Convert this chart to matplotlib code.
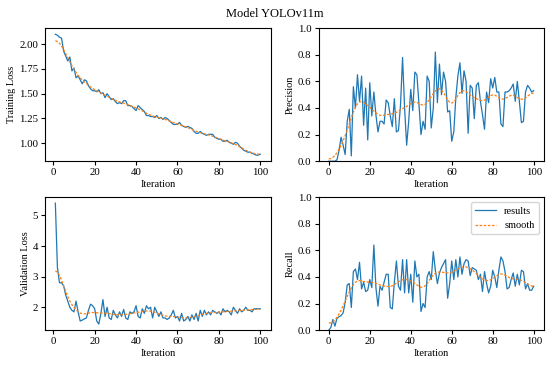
import numpy as np
import matplotlib
matplotlib.use('Agg')
import matplotlib.pyplot as plt

plt.rcParams['font.family'] = ['Liberation Serif', 'DejaVu Serif']

# iteraciones
it_loss = np.arange(1, 101)
it_metric = np.arange(0, 101)

train_loss = [2.10, 2.09, 2.07, 2.06, 1.93, 1.88, 1.83, 1.87, 1.73, 1.76,
              1.66, 1.68, 1.64, 1.60, 1.64, 1.63, 1.58, 1.55, 1.53, 1.53,
              1.52, 1.54, 1.50, 1.51, 1.46, 1.50, 1.47, 1.44, 1.45, 1.42,
              1.40, 1.41, 1.40, 1.43, 1.43, 1.38, 1.38, 1.37, 1.35, 1.33,
              1.38, 1.36, 1.34, 1.32, 1.28, 1.28, 1.27, 1.27, 1.26, 1.28,
              1.25, 1.26, 1.24, 1.26, 1.25, 1.23, 1.21, 1.19, 1.19, 1.19,
              1.21, 1.18, 1.17, 1.16, 1.17, 1.16, 1.15, 1.12, 1.10, 1.10,
              1.12, 1.10, 1.09, 1.08, 1.09, 1.09, 1.09, 1.06, 1.05, 1.04,
              1.04, 1.02, 1.02, 1.03, 1.01, 1.00, 0.99, 1.01, 1.00, 0.97,
              0.95, 0.93, 0.92, 0.91, 0.91, 0.90, 0.89, 0.88, 0.88, 0.89]

val_loss = [5.40, 3.30, 2.80, 2.80, 2.70, 2.40, 2.20, 2.00, 1.90, 1.85,
            2.20, 1.85, 1.55, 1.58, 1.62, 1.65, 1.90, 2.10, 2.05, 1.95,
            1.55, 1.45, 1.80, 2.25, 1.70, 2.00, 1.65, 1.60, 1.90, 1.75,
            1.65, 1.85, 1.70, 1.93, 1.65, 1.60, 1.85, 1.80, 1.85, 2.05,
            1.70, 1.65, 1.95, 1.80, 2.05, 1.95, 2.00, 1.65, 2.00, 1.85,
            1.70, 1.85, 1.65, 1.65, 1.60, 1.65, 1.75, 1.90, 1.65, 1.70,
            1.55, 1.80, 1.55, 1.60, 1.70, 1.55, 1.75, 1.60, 1.80, 1.55,
            1.90, 1.70, 1.90, 1.75, 1.85, 1.75, 1.90, 1.85, 1.80, 1.85,
            1.75, 1.95, 1.85, 1.90, 1.85, 1.75, 2.00, 1.90, 1.80, 1.95,
            1.85, 1.90, 2.00, 1.90, 1.90, 1.85, 1.95, 1.95, 1.95, 1.95]

precision = [0.00, 0.00, 0.00, 0.00, 0.01, 0.08, 0.18, 0.12, 0.05, 0.30,
             0.39, 0.04, 0.56, 0.40, 0.65, 0.45, 0.64, 0.27, 0.55, 0.16,
             0.59, 0.34, 0.52, 0.35, 0.22, 0.30, 0.30, 0.28, 0.46, 0.44,
             0.34, 0.26, 0.47, 0.22, 0.23, 0.42, 0.78, 0.40, 0.12, 0.30,
             0.54, 0.38, 0.67, 0.65, 0.43, 0.20, 0.30, 0.24, 0.64, 0.60,
             0.25, 0.40, 0.82, 0.44, 0.73, 0.50, 0.67, 0.60, 0.37, 0.38,
             0.15, 0.22, 0.48, 0.64, 0.74, 0.51, 0.68, 0.60, 0.21, 0.57,
             0.55, 0.32, 0.57, 0.59, 0.45, 0.35, 0.24, 0.52, 0.44, 0.62,
             0.55, 0.63, 0.52, 0.52, 0.28, 0.26, 0.52, 0.52, 0.53, 0.55,
             0.58, 0.45, 0.60, 0.45, 0.29, 0.30, 0.52, 0.57, 0.55, 0.52,
             0.53]

recall = [0.00, 0.02, 0.08, 0.03, 0.09, 0.10, 0.11, 0.13, 0.21, 0.34,
          0.35, 0.17, 0.44, 0.46, 0.38, 0.51, 0.31, 0.36, 0.29, 0.30,
          0.38, 0.32, 0.64, 0.32, 0.18, 0.33, 0.30, 0.36, 0.42, 0.42,
          0.17, 0.16, 0.36, 0.52, 0.33, 0.30, 0.53, 0.28, 0.53, 0.28,
          0.42, 0.21, 0.52, 0.40, 0.42, 0.14, 0.20, 0.17, 0.40, 0.44,
          0.38, 0.59, 0.45, 0.35, 0.43, 0.47, 0.50, 0.53, 0.24, 0.35,
          0.52, 0.38, 0.53, 0.40, 0.55, 0.42, 0.50, 0.53, 0.52, 0.41,
          0.47, 0.46, 0.45, 0.38, 0.42, 0.29, 0.44, 0.35, 0.28, 0.33,
          0.45, 0.40, 0.32, 0.45, 0.55, 0.52, 0.44, 0.31, 0.32, 0.38,
          0.43, 0.33, 0.42, 0.34, 0.45, 0.44, 0.31, 0.35, 0.30, 0.30,
          0.33]


def suavizar(y, sigma=3):
    '''Filtro gaussiano con bordes en espejo
    '''
    y = np.asarray(y, dtype=float)
    r = int(4 * sigma + 0.5)
    k = np.exp(-0.5 * (np.arange(-r, r + 1) / sigma) ** 2)
    k = k / k.sum()
    yp = np.pad(y, r, mode='reflect')
    return np.convolve(yp, k, mode='valid')


fig, axs = plt.subplots(2, 2, figsize=(5.5, 3.66), dpi=100)
plt.subplots_adjust(left=0.082, right=0.989, top=0.923, bottom=0.098,
                    wspace=0.213, hspace=0.27)
fig.suptitle('Model YOLOv11m', fontsize=9, y=0.977)

paneles = [
    (axs[0, 0], it_loss, train_loss, 'Training Loss'),
    (axs[0, 1], it_metric, precision, 'Precision'),
    (axs[1, 0], it_loss, val_loss, 'Validation Loss'),
    (axs[1, 1], it_metric, recall, 'Recall'),
]

for ax, x, y, nombre in paneles:
    ax.plot(x, y, color='#1f77b4', linewidth=0.9, label='results')
    ax.plot(x, suavizar(y), linestyle=(0, (2, 1.3)), color='#ff7f0e',
            linewidth=0.9, label='smooth')
    ax.set_ylabel(nombre, fontsize=7.5, labelpad=2)
    ax.set_xlabel('Iteration', fontsize=7.5, labelpad=2)
    ax.tick_params(labelsize=7.8, length=3, pad=2)
    ax.set_xticks([0, 20, 40, 60, 80, 100])

axs[0, 1].set_ylim(0, 1)
axs[1, 1].set_ylim(0, 1)
axs[0, 0].set_yticks([1.00, 1.25, 1.50, 1.75, 2.00])
axs[0, 0].set_yticklabels(['1.00', '1.25', '1.50', '1.75', '2.00'])
axs[1, 0].set_yticks([2, 3, 4, 5])
axs[1, 1].legend(loc='upper right', fontsize=7.5)

plt.savefig('out.png', dpi=100)
